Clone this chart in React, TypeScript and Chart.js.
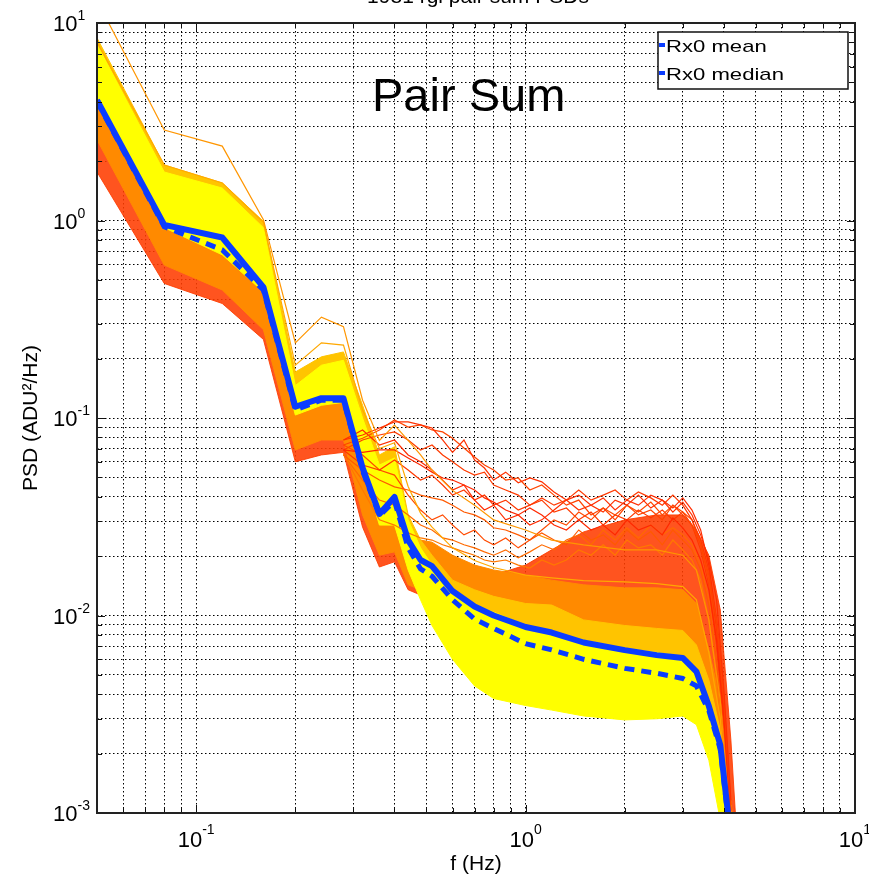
import React, { useEffect, useRef } from 'react';
import { Chart, registerables } from 'chart.js';

Chart.register(...registerables);

const FONT = "'Liberation Sans', Arial, Helvetica, sans-serif";

// Frequency grid (Hz) for the bundle envelopes and statistics
const freq = [0.05, 0.08, 0.12, 0.16, 0.2, 0.24, 0.28, 0.32, 0.36, 0.4, 0.44, 0.48, 0.52, 0.6, 0.7, 0.8, 1.0, 1.2, 1.5, 2.0, 2.5, 3.0, 3.3, 3.6, 3.9, 4.2, 4.5];

const meanPSD = [4.07, 0.95, 0.82, 0.46, 0.114, 0.126, 0.126, 0.0559, 0.0327, 0.0398, 0.0241, 0.0191, 0.0178, 0.0133, 0.0111, 0.01, 0.00875, 0.0082, 0.0073, 0.00668, 0.0063, 0.0061, 0.0052, 0.00348, 0.00221, 0.00074, 0.0003];
const medianPSD = [4.0, 0.93, 0.71, 0.445, 0.11, 0.123, 0.123, 0.054, 0.032, 0.038, 0.022, 0.0172, 0.0158, 0.012, 0.0096, 0.0086, 0.0072, 0.0067, 0.006, 0.0054, 0.0051, 0.0048, 0.0044, 0.0033, 0.0021, 0.0007, 0.0003];

// Envelopes of the colour groups of individual PSD traces
const yellowTop = [7.8, 1.76, 1.46, 0.92, 0.146, 0.185, 0.196, 0.1, 0.0578, 0.0628, 0.0305, 0.022, 0.018, 0.0132, 0.0113, 0.0104, 0.0089, 0.0082, 0.0075, 0.0068, 0.0065, 0.0062, 0.0054, 0.00373, 0.00234, 0.00082, 0.00036];
const yellowBot = [4.07, 0.92, 0.67, 0.435, 0.1035, 0.116, 0.12, 0.0545, 0.0287, 0.0287, 0.017, 0.012, 0.0089, 0.006, 0.0044, 0.0038, 0.0035, 0.00332, 0.0031, 0.00296, 0.003, 0.0031, 0.0028, 0.00185, 0.00092, 0.00036, 0.0002];
const goldTop = [8.4, 1.91, 1.55, 0.99, 0.171, 0.204, 0.216, 0.116, 0.065, 0.0715, 0.0323, 0.0241, 0.0202, 0.0151, 0.0135, 0.0125, 0.0115, 0.0113, 0.0095, 0.0089, 0.0086, 0.0084, 0.0071, 0.00471, 0.00263, 0.00103, 0.00036];
const goldBot = [5.8, 1.43, 1.2, 0.75, 0.134, 0.165, 0.171, 0.087, 0.0514, 0.0545, 0.0241, 0.018, 0.0143, 0.01066, 0.0089, 0.0082, 0.0075, 0.0068, 0.0063, 0.00595, 0.0058, 0.0057, 0.005, 0.00296, 0.00131, 0.00046, 0.0002];
const orangeTop = [4.07, 0.93, 0.8, 0.455, 0.112, 0.126, 0.126, 0.0558, 0.0334, 0.0384, 0.0256, 0.0241, 0.0235, 0.0202, 0.018, 0.017, 0.016, 0.0151, 0.0143, 0.0138, 0.0138, 0.0135, 0.0115, 0.00668, 0.00373, 0.00116, 0.00036];
const orangeBot = [2.56, 0.595, 0.445, 0.28, 0.0689, 0.0774, 0.0774, 0.0323, 0.0202, 0.021, 0.0143, 0.0135, 0.0135, 0.012, 0.01006, 0.0089, 0.0082, 0.0075, 0.0071, 0.00668, 0.0063, 0.00595, 0.00471, 0.00332, 0.00185, 0.00046, 0.0002];
const redTop = [3.05, 0.71, 0.56, 0.37, 0.0923, 0.0977, 0.1035, 0.0432, 0.0256, 0.0256, 0.0191, 0.016, 0.016, 0.0151, 0.0155, 0.016, 0.018, 0.0215, 0.0265, 0.0305, 0.0323, 0.0323, 0.0271, 0.0202, 0.01066, 0.00234, 0.00036];
const redBot = [1.76, 0.48, 0.38, 0.25, 0.06, 0.065, 0.067, 0.028, 0.0176, 0.0187, 0.0135, 0.0127, 0.0127, 0.012, 0.012, 0.0123, 0.0127, 0.0135, 0.0135, 0.0135, 0.0135, 0.0127, 0.0095, 0.0042, 0.00185, 0.00051, 0.0002];

// Two outlying traces above the bundle
const outlierHigh = [13, 2.87, 2.38, 1.01, 0.24, 0.324, 0.29, 0.123, 0.077, 0.092, 0.077, 0.065, 0.0545, 0.043, 0.0362, 0.0305, 0.0271, 0.0241, 0.0228, 0.0215, 0.0215, 0.0202, 0.017, 0.0095, 0.0037, 0.0008, 0.0003];
const outlierGold = [8.0, 1.91, 1.55, 0.98, 0.185, 0.24, 0.234, 0.11, 0.07, 0.075, 0.045, 0.033, 0.028, 0.022, 0.019, 0.0175, 0.016, 0.0155, 0.015, 0.0148, 0.0145, 0.014, 0.012, 0.0065, 0.003, 0.0006, 0.0003];

// Noisy high-level traces (red)
const noisyFreq = [0.28, 0.32, 0.36, 0.4, 0.44, 0.48, 0.52, 0.56, 0.6, 0.65, 0.7, 0.75, 0.8, 0.87, 0.95, 1.03, 1.12, 1.22, 1.33, 1.45, 1.58, 1.72, 1.87, 2.03, 2.2, 2.4, 2.6, 2.8, 3.0, 3.2, 3.4, 3.6, 3.8, 4.0, 4.2];
const noisyA = [0.0774, 0.082, 0.089, 0.0955, 0.0955, 0.0923, 0.089, 0.0774, 0.067, 0.0774, 0.0613, 0.0558, 0.0485, 0.0532, 0.047, 0.0497, 0.0475, 0.0422, 0.0384, 0.0342, 0.0362, 0.0334, 0.0384, 0.0362, 0.0407, 0.035, 0.0384, 0.0334, 0.0375, 0.0323, 0.0256, 0.0191, 0.012, 0.0042, 0.00116];
const noisyB = [0.073, 0.079, 0.087, 0.0977, 0.09, 0.0923, 0.087, 0.085, 0.079, 0.0705, 0.0635, 0.0578, 0.0545, 0.0485, 0.0497, 0.0432, 0.0458, 0.0407, 0.0362, 0.0384, 0.0323, 0.035, 0.0305, 0.0362, 0.0323, 0.0342, 0.0305, 0.0362, 0.0323, 0.0287, 0.0228, 0.016, 0.0095, 0.00373, 0.00103];
const noisyC = [0.0689, 0.067, 0.0689, 0.0689, 0.0628, 0.0578, 0.0532, 0.0497, 0.0485, 0.0458, 0.0432, 0.0394, 0.0375, 0.0342, 0.0323, 0.035, 0.0323, 0.0287, 0.0271, 0.0305, 0.0271, 0.0287, 0.0256, 0.0305, 0.0271, 0.0287, 0.0256, 0.0312, 0.0278, 0.0241, 0.0191, 0.0135, 0.0075, 0.00296, 0.00092];
const noisyD = [0.065, 0.0545, 0.0485, 0.0448, 0.0432, 0.0407, 0.0394, 0.0384, 0.0362, 0.0334, 0.0323, 0.0305, 0.0278, 0.0271, 0.0256, 0.0241, 0.0262, 0.0241, 0.0228, 0.0271, 0.0241, 0.0256, 0.0228, 0.0271, 0.0241, 0.0266, 0.0228, 0.0271, 0.0241, 0.0215, 0.017, 0.0113, 0.00595, 0.00234, 0.00082];
const noisyE = [0.066, 0.0432, 0.0305, 0.0287, 0.0262, 0.0247, 0.0241, 0.0228, 0.022, 0.021, 0.0202, 0.0191, 0.0187, 0.0191, 0.018, 0.0174, 0.0191, 0.018, 0.0191, 0.0215, 0.0202, 0.0228, 0.0202, 0.0241, 0.022, 0.0228, 0.0202, 0.0241, 0.0215, 0.0191, 0.0151, 0.0095, 0.00471, 0.00185, 0.00073];
const noisyF = [0.0689, 0.0578, 0.0545, 0.0613, 0.0545, 0.0485, 0.0514, 0.0458, 0.0407, 0.0432, 0.0384, 0.0407, 0.0362, 0.0384, 0.0342, 0.0362, 0.0394, 0.0362, 0.0384, 0.0432, 0.0384, 0.0407, 0.0432, 0.0384, 0.0422, 0.0394, 0.0362, 0.0407, 0.0362, 0.0305, 0.0241, 0.017, 0.00845, 0.00332, 0.00092];
const noisyG = [0.073, 0.065, 0.0545, 0.0514, 0.0407, 0.0342, 0.0305, 0.0323, 0.0287, 0.0256, 0.0271, 0.0241, 0.0228, 0.0247, 0.022, 0.0241, 0.0271, 0.0305, 0.0287, 0.0334, 0.0305, 0.035, 0.0323, 0.0362, 0.0334, 0.0375, 0.0323, 0.0362, 0.0334, 0.0305, 0.0228, 0.0151, 0.0075, 0.00296, 0.00103];
const noisyH = [0.0774, 0.087, 0.073, 0.0774, 0.065, 0.06, 0.0545, 0.0485, 0.0432, 0.0458, 0.0384, 0.0342, 0.0362, 0.0305, 0.0323, 0.0287, 0.0305, 0.0342, 0.0384, 0.0407, 0.0362, 0.0394, 0.0342, 0.0384, 0.0362, 0.0407, 0.0384, 0.035, 0.0394, 0.0342, 0.0271, 0.018, 0.0095, 0.00373, 0.0011];
const noisyI = [0.065, 0.0485, 0.0384, 0.0362, 0.0323, 0.0287, 0.0271, 0.0247, 0.0241, 0.0228, 0.022, 0.021, 0.0202, 0.0215, 0.0196, 0.021, 0.0228, 0.0215, 0.0241, 0.0256, 0.0228, 0.0271, 0.0241, 0.0278, 0.0247, 0.0287, 0.0256, 0.0278, 0.0256, 0.0228, 0.018, 0.012, 0.00595, 0.00234, 0.00082];
const noisyJ = [0.0689, 0.0774, 0.082, 0.085, 0.0774, 0.0689, 0.073, 0.065, 0.06, 0.0545, 0.0514, 0.0532, 0.0458, 0.0432, 0.0407, 0.0362, 0.0384, 0.0334, 0.035, 0.0305, 0.0334, 0.0287, 0.0323, 0.0305, 0.0342, 0.0312, 0.0342, 0.0305, 0.0334, 0.0287, 0.0215, 0.0143, 0.0071, 0.0028, 0.00098];

// Axes
const xTicks = [0.05, 0.06, 0.07, 0.08, 0.09, 0.1, 0.2, 0.3, 0.4, 0.5, 0.6, 0.7, 0.8, 0.9, 1, 2, 3, 4, 5, 6, 7, 8, 9, 10];
const yTicks = [0.001, 0.002, 0.003, 0.004, 0.005, 0.006, 0.007, 0.008, 0.009, 0.01, 0.02, 0.03, 0.04, 0.05, 0.06, 0.07, 0.08, 0.09, 0.1, 0.2, 0.3, 0.4, 0.5, 0.6, 0.7, 0.8, 0.9, 1, 2, 3, 4, 5, 6, 7, 8, 9, 10];
const xDecades = [0.1, 1, 10];
const xDecadeExp = ['-1', '0', '1'];
const yDecades = [0.001, 0.01, 0.1, 1, 10];
const yDecadeExp = ['-3', '-2', '-1', '0', '1'];

const TITLE = '1981 rgi pair sum PSDs';
const X_LABEL = 'f (Hz)';
const Y_LABEL = 'PSD (ADU\u00b2/Hz)';
const ANNOTATION = 'Pair Sum';

const C_YELLOW = '#ffff00';
const C_GOLD = '#ffc400';
const C_ORANGE = '#ff8a00';
const C_RED = 'rgba(255,60,0,0.88)';
const C_BLUE = '#0a3cff';

const pts = (xs: number[], ys: number[]) => xs.map((x, i) => ({ x, y: ys[i] }));

const lineDs = (label: string, xs: number[], ys: number[], color: string, width: number, extra: any = {}) => ({
  label,
  data: pts(xs, ys),
  borderColor: color,
  backgroundColor: color,
  borderWidth: width,
  pointRadius: 0,
  tension: 0,
  fill: false,
  clip: 0,
  ...extra,
});

function drawText(ctx: CanvasRenderingContext2D, s: string, x: number, y: number, size: number, align: CanvasTextAlign = 'left', sx = 1) {
  ctx.save();
  ctx.font = `${size}px ${FONT}`;
  ctx.textAlign = align;
  ctx.textBaseline = 'alphabetic';
  ctx.fillStyle = '#000';
  ctx.translate(x, y);
  ctx.scale(sx, 1);
  ctx.fillText(s, 0, 0);
  ctx.restore();
}

const decor = {
  id: 'decor',
  beforeDraw(chart: any) {
    const { ctx, width, height } = chart;
    ctx.save();
    ctx.fillStyle = '#fff';
    ctx.fillRect(0, 0, width, height);
    ctx.restore();
  },
  afterDraw(chart: any) {
    const { ctx, chartArea: a } = chart;
    const xs = chart.scales.x;
    const ys = chart.scales.y;
    ctx.save();
    ctx.strokeStyle = '#111';
    ctx.lineWidth = 1;
    const seg = (x1: number, y1: number, x2: number, y2: number) => {
      ctx.beginPath();
      ctx.moveTo(x1, y1);
      ctx.lineTo(x2, y2);
      ctx.stroke();
    };
    xTicks.forEach((v) => {
      const px = Math.round(xs.getPixelForValue(v)) + 0.5;
      const len = xDecades.includes(v) ? 8 : 5;
      seg(px, a.bottom, px, a.bottom - len);
      seg(px, a.top, px, a.top + len);
    });
    yTicks.forEach((v) => {
      const py = Math.round(ys.getPixelForValue(v)) + 0.5;
      const len = yDecades.includes(v) ? 8 : 5;
      seg(a.left, py, a.left + len, py);
      seg(a.right, py, a.right - len, py);
    });
    ctx.lineWidth = 2;
    ctx.strokeStyle = '#222';
    ctx.strokeRect(a.left, a.top, a.right - a.left, a.bottom - a.top);

    // tick labels
    ctx.font = `22px ${FONT}`;
    const w10 = ctx.measureText('10').width;
    xDecades.forEach((v, i) => {
      const px = xs.getPixelForValue(v);
      ctx.font = `14px ${FONT}`;
      const we = ctx.measureText(xDecadeExp[i]).width;
      const start = px - (w10 + we) / 2;
      drawText(ctx, '10', start, a.bottom + 34, 22);
      drawText(ctx, xDecadeExp[i], start + w10, a.bottom + 21, 14);
    });
    yDecades.forEach((v, i) => {
      const py = ys.getPixelForValue(v);
      const lx = a.left - 44;
      drawText(ctx, '10', lx, py + 8, 22);
      drawText(ctx, yDecadeExp[i], lx + w10, py - 3, 14);
    });

    // axis titles
    const cx = (a.left + a.right) / 2;
    const cy = (a.top + a.bottom) / 2;
    drawText(ctx, X_LABEL, cx, a.bottom + 57, 21, 'center');
    ctx.save();
    ctx.translate(a.left - 60, cy);
    ctx.rotate(-Math.PI / 2);
    drawText(ctx, Y_LABEL, 0, 0, 21, 'center');
    ctx.restore();
    drawText(ctx, TITLE, cx + 2, 3, 21, 'center');

    // annotation
    drawText(ctx, ANNOTATION, a.left + 275, a.top + 88, 47);

    // legend
    const lx = a.right - 197;
    const ly = a.top + 9;
    const lw = 190;
    const lh = 57;
    ctx.fillStyle = '#fff';
    ctx.fillRect(lx, ly, lw, lh);
    ctx.lineWidth = 1.5;
    ctx.strokeStyle = '#111';
    ctx.strokeRect(lx, ly, lw, lh);
    const ds = chart.data.datasets;
    [0, 1].forEach((k) => {
      const yy = ly + 14 + k * 28;
      ctx.fillStyle = ds[k].borderColor;
      ctx.fillRect(lx + 1, yy - 3, 6, 4);
      drawText(ctx, ds[k].label, lx + 8, yy + 6, 17, 'left', 1.3);
    });
    ctx.restore();
  },
};

export default function App() {
  const ref = useRef<HTMLCanvasElement | null>(null);
  useEffect(() => {
    document.body.style.margin = '0';
    const canvas = ref.current;
    if (!canvas) return;
    const band = (top: number[], bot: number[], color: string) => [
      lineDs('', freq, top, color, 1),
      lineDs('', freq, bot, color, 1, { fill: '-1', backgroundColor: color }),
    ];
    const datasets: any[] = [
      lineDs('Rx0 mean', freq, meanPSD, C_BLUE, 6, { borderJoinStyle: 'round' }),
      lineDs('Rx0 median', freq, medianPSD, C_BLUE, 5, { borderDash: [10, 7] }),
      lineDs('', freq, outlierHigh, '#ff9600', 1.2),
      lineDs('', freq, outlierGold, '#ffa800', 1.2),
      lineDs('', noisyFreq, noisyA, '#ff3000', 1.2),
      lineDs('', noisyFreq, noisyB, '#ff4400', 1.2),
      lineDs('', noisyFreq, noisyC, '#ff2800', 1.2),
      lineDs('', noisyFreq, noisyD, '#ff5a00', 1.2),
      lineDs('', noisyFreq, noisyE, '#ff7800', 1.2),
      lineDs('', noisyFreq, noisyF, '#ff3800', 1.2),
      lineDs('', noisyFreq, noisyG, '#ff4a00', 1.2),
      lineDs('', noisyFreq, noisyH, '#ff2c00', 1.2),
      lineDs('', noisyFreq, noisyI, '#ff6a00', 1.2),
      lineDs('', noisyFreq, noisyJ, '#ff3a00', 1.2),
      ...band(yellowTop, yellowBot, C_YELLOW),
      ...band(goldTop, goldBot, C_GOLD),
      ...band(orangeTop, orangeBot, C_ORANGE),
      ...band(redTop, redBot, C_RED),
    ];
    const axis = (min: number, max: number, ticks: number[]) => ({
      type: 'logarithmic',
      min,
      max,
      afterBuildTicks: (s: any) => {
        s.ticks = ticks.map((v) => ({ value: v }));
      },
      ticks: { display: false },
      grid: { color: '#000', lineWidth: 1, drawTicks: false },
      border: { display: false, dash: [1.5, 2.5] },
    });
    const chart = new Chart(canvas, {
      type: 'line',
      data: { datasets },
      options: {
        responsive: false,
        animation: false,
        events: [],
        parsing: false,
        normalized: true,
        layout: { padding: { left: 97, top: 23, right: 14, bottom: 64 } },
        plugins: { legend: { display: false }, tooltip: { enabled: false }, title: { display: false } },
        scales: { x: axis(0.05, 10, xTicks), y: axis(0.001, 10, yTicks) } as any,
      },
      plugins: [decor],
    } as any);
    return () => chart.destroy();
  }, []);
  return <canvas ref={ref} width={869} height={877} style={{ display: 'block' }} />;
}
